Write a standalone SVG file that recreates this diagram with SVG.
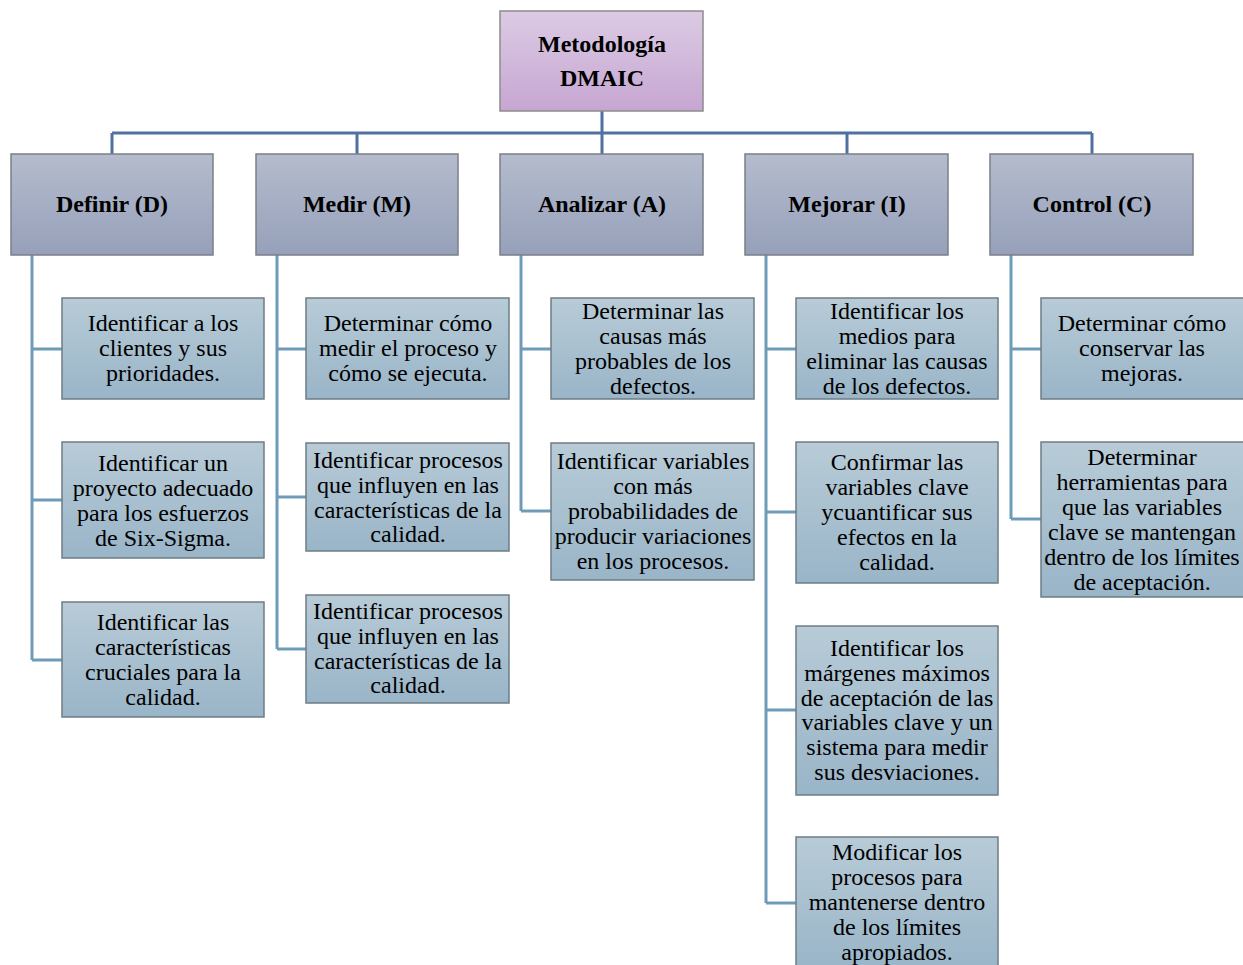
<svg xmlns="http://www.w3.org/2000/svg" width="1243" height="965" viewBox="0 0 1243 965">
<defs>
<linearGradient id="gRoot" x1="0" y1="0" x2="0" y2="1"><stop offset="0" stop-color="#dccbe4"/><stop offset="1" stop-color="#c6a6d2"/></linearGradient>
<linearGradient id="gL1" x1="0" y1="0" x2="0" y2="1"><stop offset="0" stop-color="#b4bccd"/><stop offset="1" stop-color="#96a0b9"/></linearGradient>
<linearGradient id="gL2" x1="0" y1="0" x2="0" y2="1"><stop offset="0" stop-color="#b8cbd7"/><stop offset="1" stop-color="#99b5c8"/></linearGradient>
</defs>
<style>
.root{fill:url(#gRoot);stroke:#8c8c8c;stroke-width:1.5}
.l1{fill:url(#gL1);stroke:#7c7f88;stroke-width:1.5}
.l2{fill:url(#gL2);stroke:#6e7c85;stroke-width:1.5}
.tb{font-family:"Liberation Serif",serif;font-size:24px;font-weight:bold;fill:#000;text-anchor:middle}
.t{font-family:"Liberation Serif",serif;font-size:24px;fill:#000;text-anchor:middle}
.c1{fill:none;stroke:#50709f;stroke-width:3}
.c2{fill:none;stroke:#6e9bb7;stroke-width:3}
</style>
<g id="connectors">
<path class="c1" d="M602,111 V133 M112,133 H1092 M112,133 V154 M357,133 V154 M602,133 V154 M847,133 V154 M1092,133 V154"/>
<path class="c2" d="M32,255 V660 M32,349 H62 M32,500 H62 M32,660 H62"/>
<path class="c2" d="M277,255 V649 M277,349 H306 M277,497 H306 M277,649 H306"/>
<path class="c2" d="M521,255 V511 M521,349 H551 M521,511 H551"/>
<path class="c2" d="M766,255 V903 M766,349 H796 M766,512 H796 M766,710 H796 M766,903 H796"/>
<path class="c2" d="M1011,255 V519 M1011,349 H1041 M1011,519 H1041"/>
</g>
<g id="root"><rect class="root" x="500" y="11" width="203" height="100"/><text class="tb" x="602" y="52">Metodología</text><text class="tb" x="602" y="86">DMAIC</text></g>
<g id="definir"><rect class="l1" x="11" y="154" width="202" height="101"/><text class="tb" x="112" y="212">Definir (D)</text></g>
<g id="medir"><rect class="l1" x="256" y="154" width="202" height="101"/><text class="tb" x="357" y="212">Medir (M)</text></g>
<g id="analizar"><rect class="l1" x="500" y="154" width="203" height="101"/><text class="tb" x="602" y="212">Analizar (A)</text></g>
<g id="mejorar"><rect class="l1" x="745" y="154" width="203" height="101"/><text class="tb" x="847" y="212">Mejorar (I)</text></g>
<g id="control"><rect class="l1" x="990" y="154" width="203" height="101"/><text class="tb" x="1092" y="212">Control (C)</text></g>

<g id="d1"><rect class="l2" x="62" y="298" width="202" height="101"/><text class="t" x="163" y="331">Identificar a los</text><text class="t" x="163" y="356">clientes y sus</text><text class="t" x="163" y="381">prioridades.</text></g>
<g id="d2"><rect class="l2" x="62" y="442" width="202" height="116"/><text class="t" x="163" y="471">Identificar un</text><text class="t" x="163" y="496">proyecto adecuado</text><text class="t" x="163" y="521">para los esfuerzos</text><text class="t" x="163" y="546">de Six-Sigma.</text></g>
<g id="d3"><rect class="l2" x="62" y="602" width="202" height="115"/><text class="t" x="163" y="630">Identificar las</text><text class="t" x="163" y="655">características</text><text class="t" x="163" y="680">cruciales para la</text><text class="t" x="163" y="705">calidad.</text></g>

<g id="m1"><rect class="l2" x="306" y="298" width="203" height="101"/><text class="t" x="408" y="331">Determinar cómo</text><text class="t" x="408" y="356">medir el proceso y</text><text class="t" x="408" y="381">cómo se ejecuta.</text></g>
<g id="m2"><rect class="l2" x="306" y="443" width="203" height="108"/><text class="t" x="408" y="468">Identificar procesos</text><text class="t" x="408" y="493">que influyen en las</text><text class="t" x="408" y="518">características de la</text><text class="t" x="408" y="542">calidad.</text></g>
<g id="m3"><rect class="l2" x="306" y="595" width="203" height="108"/><text class="t" x="408" y="619">Identificar procesos</text><text class="t" x="408" y="644">que influyen en las</text><text class="t" x="408" y="669">características de la</text><text class="t" x="408" y="693">calidad.</text></g>

<g id="a1"><rect class="l2" x="551" y="298" width="203" height="101"/><text class="t" x="653" y="319">Determinar las</text><text class="t" x="653" y="344">causas más</text><text class="t" x="653" y="369">probables de los</text><text class="t" x="653" y="394">defectos.</text></g>
<g id="a2"><rect class="l2" x="551" y="443" width="203" height="137"/><text class="t" x="653" y="469">Identificar variables</text><text class="t" x="653" y="494">con más</text><text class="t" x="653" y="519">probabilidades de</text><text class="t" x="653" y="544">producir variaciones</text><text class="t" x="653" y="569">en los procesos.</text></g>

<g id="i1"><rect class="l2" x="796" y="298" width="202" height="101"/><text class="t" x="897" y="319">Identificar los</text><text class="t" x="897" y="344">medios para</text><text class="t" x="897" y="369">eliminar las causas</text><text class="t" x="897" y="394">de los defectos.</text></g>
<g id="i2"><rect class="l2" x="796" y="442" width="202" height="141"/><text class="t" x="897" y="470">Confirmar las</text><text class="t" x="897" y="495">variables clave</text><text class="t" x="897" y="520">ycuantificar sus</text><text class="t" x="897" y="545">efectos en la</text><text class="t" x="897" y="570">calidad.</text></g>
<g id="i3"><rect class="l2" x="796" y="626" width="202" height="169"/><text class="t" x="897" y="656">Identificar los</text><text class="t" x="897" y="681">márgenes máximos</text><text class="t" x="897" y="706">de aceptación de las</text><text class="t" x="897" y="730">variables clave y un</text><text class="t" x="897" y="755">sistema para medir</text><text class="t" x="897" y="780">sus desviaciones.</text></g>
<g id="i4"><rect class="l2" x="796" y="837" width="202" height="132"/><text class="t" x="897" y="860">Modificar los</text><text class="t" x="897" y="885">procesos para</text><text class="t" x="897" y="910">mantenerse dentro</text><text class="t" x="897" y="935">de los límites</text><text class="t" x="897" y="960">apropiados.</text></g>

<g id="c1"><rect class="l2" x="1041" y="298" width="204" height="101"/><text class="t" x="1142" y="331">Determinar cómo</text><text class="t" x="1142" y="356">conservar las</text><text class="t" x="1142" y="381">mejoras.</text></g>
<g id="c2"><rect class="l2" x="1041" y="442" width="204" height="155"/><text class="t" x="1142" y="465">Determinar</text><text class="t" x="1142" y="490">herramientas para</text><text class="t" x="1142" y="515">que las variables</text><text class="t" x="1142" y="540">clave se mantengan</text><text class="t" x="1142" y="565">dentro de los límites</text><text class="t" x="1142" y="590">de aceptación.</text></g>
</svg>
